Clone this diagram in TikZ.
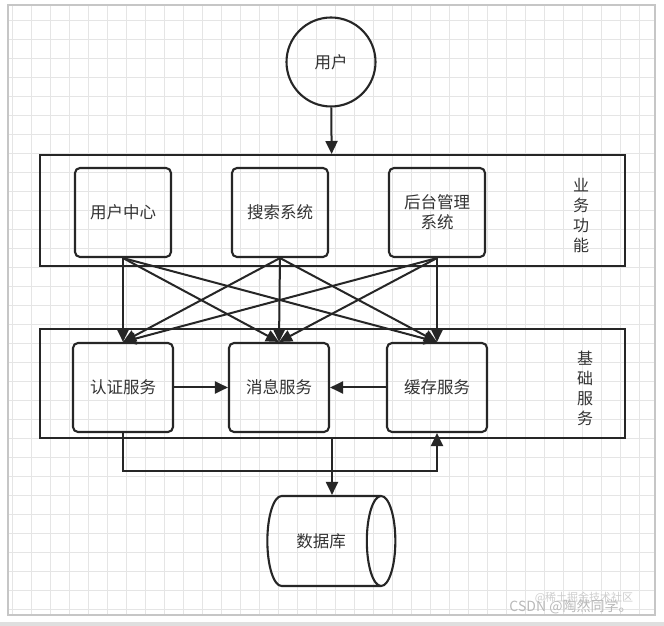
\documentclass[tikz,border=0pt]{standalone}
\usepackage{fontspec}
\setmainfont{Noto Sans CJK SC}
\usetikzlibrary{arrows.meta,shapes.geometric}

\begin{document}
\begin{tikzpicture}[x=1pt, y=1pt,
    gridline/.style={draw=gray!20, line width=0.7pt},
    frame/.style={draw=black!85, line width=2pt},
    box/.style={draw=black!85, line width=2.1pt, rounded corners=5pt, minimum width=96pt, minimum height=89pt, align=center, font=\fontsize{16.5}{20}\selectfont, text=black!80},
    side/.style={align=center, font=\fontsize{16}{20}\selectfont, text=black!80},
    arr/.style={-{Triangle[length=13pt,width=12pt]}, line width=2pt, draw=black!85},
    wmark/.style={text=gray!55}
]
\useasboundingbox (0,0) rectangle (664,626);
\fill[white] (0,0) rectangle (664,626);
\fill[gray!25] (0,0) rectangle (664,4);
\draw[gridline, xshift=12pt, yshift=17pt] (-4,-6) grid[step=19pt] (643,604);
\draw[gray!45, line width=1.2pt] (8,11) rectangle (655,621);

\node[draw=black!85, line width=2.1pt, circle, minimum size=89pt, font=\fontsize{16.5}{20}\selectfont, text=black!80] (user) at (331,564) {用户};

\node[frame, minimum width=585pt, minimum height=111pt] (biz) at (332,415.5) {};
\node[box] (ucenter) at (123,413.5) {用户中心};
\node[box] (search) at (280,413.5) {搜索系统};
\node[box] (admin) at (437,413.5) {后台管理\\系统};
\node[side] (bizlabel) at (581,410) {业\\务\\功\\能};

\node[frame, minimum width=585pt, minimum height=109pt] (base) at (332,242.5) {};
\node[box, minimum width=100pt] (auth) at (123,238.5) {认证服务};
\node[box, minimum width=100pt] (msg) at (279,238.5) {消息服务};
\node[box, minimum width=100pt] (cache) at (437,238.5) {缓存服务};
\node[side] (baselabel) at (585,238) {基\\础\\服\\务};

\node[draw=black!85, line width=2.1pt, cylinder, aspect=1.3, minimum width=90pt, minimum height=128pt, font=\fontsize{16.5}{20}\selectfont, text=black!80] (db) at (321,85) {数据库};

\draw[arr] (user) -- (biz);
\draw[arr] (ucenter.south) -- (auth.north);
\draw[arr] (ucenter.south) -- (msg.north);
\draw[arr] (ucenter.south) -- (cache.north);
\draw[arr] (search.south) -- (auth.north);
\draw[arr] (search.south) -- (msg.north);
\draw[arr] (search.south) -- (cache.north);
\draw[arr] (admin.south) -- (auth.north);
\draw[arr] (admin.south) -- (msg.north);
\draw[arr] (admin.south) -- (cache.north);
\draw[arr] (auth) -- (msg);
\draw[arr] (cache) -- (msg);
\draw[arr] (auth.south) -- ++(0,-38) -| (cache.south);
\draw[arr] (base.south) -- (base.south |- db.north);

\node[wmark, font=\fontsize{11}{13}\selectfont, opacity=0.7] (juejin) at (584,28) {@稀土掘金技术社区};
\node[wmark, font=\fontsize{14}{16}\selectfont] (csdn) at (571,19) {CSDN @陶然同学。};
\end{tikzpicture}
\end{document}
